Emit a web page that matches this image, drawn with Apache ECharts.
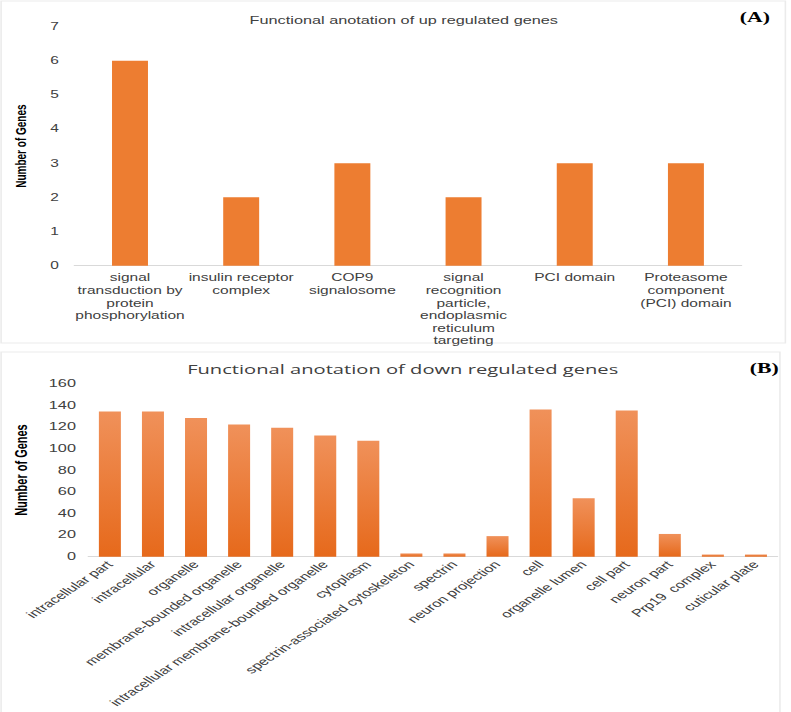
<!DOCTYPE html>
<html>
<head>
<meta charset="utf-8">
<script src="https://cdn.jsdelivr.net/npm/echarts@6/dist/echarts.min.js"></script>
<style>
  html, body { margin: 0; padding: 0; background: #fff; overflow: hidden; }
  #chart { width: 510.3px; height: 712px; transform: scaleX(1.55); transform-origin: 0 0; }
</style>
</head>
<body>
<div id="chart"></div>
<script>
// Panel A: up-regulated genes
const upCategories = [
  'signal\ntransduction by\nprotein\nphosphorylation',
  'insulin receptor\ncomplex',
  'COP9\nsignalosome',
  'signal\nrecognition\nparticle,\nendoplasmic\nreticulum\ntargeting',
  'PCI domain',
  'Proteasome\ncomponent\n(PCI) domain'
];
const upValues = [6, 2, 3, 2, 3, 3];
const upTicks = [0, 1, 2, 3, 4, 5, 6, 7];

// Panel B: down-regulated genes
const downCategories = [
  'intracellular part', 'intracellular', 'organelle', 'membrane-bounded organelle',
  'intracellular organelle', 'intracellular membrane-bounded organelle', 'cytoplasm',
  'spectrin-associated cytoskeleton', 'spectrin', 'neuron projection', 'cell',
  'organelle lumen', 'cell part', 'neuron part', 'Prp19  complex', 'cuticular plate'
];
const downValues = [134, 134, 128, 122, 119, 112, 107, 3, 3, 19, 136, 54, 135, 21, 2, 2];
const downTicks = [0, 20, 40, 60, 80, 100, 120, 140, 160];

const chart = echarts.init(document.getElementById('chart'), null, { renderer: 'svg' });
const txt = '#404040';
const font = 'Liberation Sans, Arial, sans-serif';

chart.setOption({
  animation: false,
  backgroundColor: '#ffffff',
  graphic: [
    { type: 'rect', shape: { x: 0.7, y: 1, width: 506, height: 342 }, style: { fill: 'none', stroke: '#ebebeb', lineWidth: 1 } },
    { type: 'rect', shape: { x: 0.7, y: 352, width: 502.5, height: 362 }, style: { fill: 'none', stroke: '#ebebeb', lineWidth: 1 } },
    { type: 'text', x: 487, y: 17, style: { text: '(A)', font: 'bold 14px "Liberation Serif", "Times New Roman", serif', fill: '#000', align: 'center', verticalAlign: 'middle' } },
    { type: 'text', x: 493, y: 368, style: { text: '(B)', font: 'bold 14px "Liberation Serif", "Times New Roman", serif', fill: '#000', align: 'center', verticalAlign: 'middle' } }
  ],
  title: [
    { text: 'Functional anotation of up regulated genes', left: 255.5, top: 10, textAlign: 'center',
      textStyle: { fontFamily: font, fontSize: 10.5, fontWeight: 'normal', color: txt } },
    { text: 'Functional anotation of down regulated genes', left: 254.8, top: 358, textAlign: 'center',
      textStyle: { fontFamily: 'Open Sans, Noto Sans, sans-serif', fontSize: 13, fontWeight: 'normal', color: txt } }
  ],
  grid: [
    { left: 47.7, right: 31.6, top: 26.5, bottom: 446.3 },
    { left: 54.8, right: 8.4, top: 383.4, bottom: 155.3 }
  ],
  xAxis: [
    { type: 'category', gridIndex: 0, data: upCategories,
      axisTick: { show: false }, axisLine: { lineStyle: { color: '#d9d9d9' } },
      axisLabel: { interval: 0, margin: 6, fontFamily: font, fontSize: 10, lineHeight: 12.6, color: txt, align: 'center' } },
    { type: 'category', gridIndex: 1, data: downCategories,
      axisTick: { show: false }, axisLine: { lineStyle: { color: '#d9d9d9' } },
      axisLabel: { interval: 0, rotate: 46, margin: 6, fontFamily: font, fontSize: 10.5, color: txt } }
  ],
  yAxis: [
    { type: 'value', gridIndex: 0, min: upTicks[0], max: upTicks[upTicks.length - 1], interval: 1,
      name: 'Number of Genes', nameLocation: 'middle', nameGap: 30,
      nameTextStyle: { fontFamily: font, fontSize: 10, fontWeight: 'bold', color: '#000' },
      splitLine: { show: false }, axisLine: { show: false }, axisTick: { show: false },
      axisLabel: { margin: 10, fontFamily: font, fontSize: 10, color: txt } },
    { type: 'value', gridIndex: 1, min: downTicks[0], max: downTicks[downTicks.length - 1], interval: 20,
      name: 'Number of Genes', nameLocation: 'middle', nameGap: 38,
      nameTextStyle: { fontFamily: font, fontSize: 11, fontWeight: 'bold', color: '#000' },
      splitLine: { show: false }, axisLine: { show: false }, axisTick: { show: false },
      axisLabel: { margin: 8, fontFamily: font, fontSize: 10.5, color: txt } }
  ],
  series: [
    { type: 'bar', xAxisIndex: 0, yAxisIndex: 0, data: upValues, barWidth: 23.2,
      itemStyle: { color: '#ed7d31' } },
    { type: 'bar', xAxisIndex: 1, yAxisIndex: 1, data: downValues, barWidth: 14.2,
      itemStyle: { color: new echarts.graphic.LinearGradient(0, 0, 0, 1, [
        { offset: 0, color: '#f0915a' }, { offset: 1, color: '#e6691b' }
      ]) } }
  ]
});
</script>
</body>
</html>
